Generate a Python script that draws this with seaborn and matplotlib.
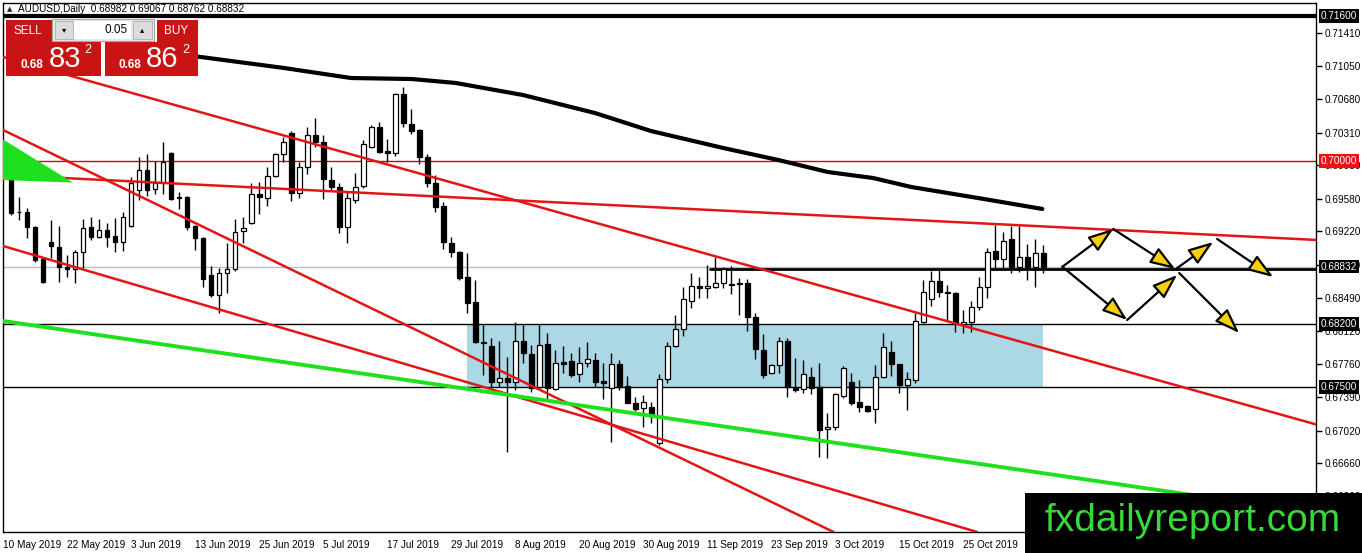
import matplotlib
matplotlib.use('Agg')
import matplotlib.pyplot as plt
import matplotlib.transforms as mtransforms
from matplotlib.patches import Rectangle
import numpy as np
import pandas as pd
import seaborn as sns

sns.set_style('white')
plt.rcParams['font.family'] = ['Liberation Sans', 'DejaVu Sans']

# AUDUSD daily candles, 10 May 2019 .. 8 Nov 2019
opens = [0.6988, 0.6993, 0.6944, 0.6944, 0.6927, 0.6892, 0.6910, 0.6905, 0.6883, 0.6881,
         0.6899, 0.6927, 0.6916, 0.6924, 0.6917, 0.6910, 0.6928, 0.6968, 0.6990, 0.6969,
         0.6976, 0.7009, 0.6960, 0.6960, 0.6928, 0.6915, 0.6874, 0.6852, 0.6876, 0.6881,
         0.6923, 0.6931, 0.6963, 0.6959, 0.6983, 0.7008, 0.7031, 0.6965, 0.6993, 0.7029,
         0.7021, 0.6979, 0.6971, 0.6927, 0.6957, 0.6972, 0.7015, 0.7038, 0.7011, 0.7009,
         0.7074, 0.7041, 0.7034, 0.7004, 0.6976, 0.6950, 0.6909, 0.6899, 0.6872, 0.6844,
         0.6800, 0.6796, 0.6756, 0.6760, 0.6756, 0.6801, 0.6787, 0.6750, 0.6798, 0.6748,
         0.6778, 0.6779, 0.6765, 0.6777, 0.6780, 0.6757, 0.6749, 0.6776, 0.6751, 0.6733,
         0.6727, 0.6728, 0.6688, 0.6759, 0.6796, 0.6814, 0.6845, 0.6862, 0.6860, 0.6861,
         0.6865, 0.6864, 0.6865, 0.6865, 0.6828, 0.6791, 0.6766, 0.6775, 0.6801, 0.6749,
         0.6748, 0.6761, 0.6750, 0.6704, 0.6706, 0.6740, 0.6756, 0.6734, 0.6729, 0.6726,
         0.6761, 0.6789, 0.6776, 0.6752, 0.6758, 0.6822, 0.6847, 0.6867, 0.6855, 0.6854,
         0.6820, 0.6822, 0.6839, 0.6861, 0.6900, 0.6892, 0.6914, 0.6883, 0.6894, 0.6883,
         0.68982]
highs = [0.7020, 0.7003, 0.6960, 0.6948, 0.6928, 0.6894, 0.6935, 0.6928, 0.6896, 0.6902,
         0.6936, 0.6938, 0.6936, 0.6931, 0.6937, 0.6944, 0.6982, 0.7004, 0.7008, 0.7000,
         0.7021, 0.7010, 0.6966, 0.6961, 0.6929, 0.6916, 0.6884, 0.6882, 0.6909, 0.6936,
         0.6938, 0.6976, 0.6977, 0.6993, 0.7009, 0.7026, 0.7033, 0.6999, 0.7038, 0.7047,
         0.7029, 0.6993, 0.6976, 0.6966, 0.6987, 0.7023, 0.7040, 0.7043, 0.7024, 0.7075,
         0.7082, 0.7057, 0.7035, 0.7008, 0.6984, 0.6955, 0.6916, 0.6900, 0.6898, 0.6868,
         0.6819, 0.6804, 0.6801, 0.6783, 0.6822, 0.6819, 0.6797, 0.6819, 0.6810, 0.6791,
         0.6796, 0.6788, 0.6794, 0.6800, 0.6788, 0.6777, 0.6788, 0.6780, 0.6762, 0.6739,
         0.6741, 0.6734, 0.6765, 0.6800, 0.6830, 0.6861, 0.6876, 0.6872, 0.6885, 0.6894,
         0.6883, 0.6884, 0.6871, 0.6870, 0.6832, 0.6809, 0.6776, 0.6805, 0.6804, 0.6782,
         0.6780, 0.6772, 0.6777, 0.6721, 0.6744, 0.6773, 0.6766, 0.6758, 0.6730, 0.6775,
         0.6810, 0.6801, 0.6776, 0.6767, 0.6832, 0.6868, 0.6878, 0.6882, 0.6863, 0.6855,
         0.6835, 0.6845, 0.6872, 0.6904, 0.6929, 0.6921, 0.6928, 0.6928, 0.6908, 0.6914,
         0.69067]
lows = [0.6984, 0.6940, 0.6935, 0.6915, 0.6888, 0.6865, 0.6893, 0.6866, 0.6872, 0.6865,
        0.6882, 0.6913, 0.6915, 0.6905, 0.6899, 0.6900, 0.6927, 0.6957, 0.6961, 0.6963,
        0.6963, 0.6957, 0.6947, 0.6924, 0.6902, 0.6861, 0.6850, 0.6832, 0.6854, 0.6878,
        0.6909, 0.6930, 0.6941, 0.6950, 0.6982, 0.6999, 0.6956, 0.6959, 0.6986, 0.7015,
        0.6958, 0.6968, 0.6920, 0.6909, 0.6954, 0.6970, 0.7014, 0.7009, 0.6999, 0.7005,
        0.7038, 0.7030, 0.6997, 0.6971, 0.6943, 0.6903, 0.6894, 0.6868, 0.6832, 0.6799,
        0.6763, 0.6750, 0.6750, 0.6678, 0.6747, 0.6777, 0.6745, 0.6749, 0.6736, 0.6747,
        0.6766, 0.6761, 0.6756, 0.6772, 0.6750, 0.6737, 0.6689, 0.6747, 0.6732, 0.6724,
        0.6706, 0.6710, 0.6686, 0.6755, 0.6794, 0.6806, 0.6837, 0.6848, 0.6848, 0.6860,
        0.6860, 0.6853, 0.6830, 0.6812, 0.6781, 0.6760, 0.6764, 0.6766, 0.6739, 0.6745,
        0.6743, 0.6742, 0.6673, 0.6672, 0.6703, 0.6738, 0.6730, 0.6723, 0.6723, 0.6710,
        0.6760, 0.6762, 0.6743, 0.6725, 0.6755, 0.6821, 0.6840, 0.6850, 0.6823, 0.6811,
        0.6810, 0.6811, 0.6835, 0.6848, 0.6882, 0.6882, 0.6876, 0.6877, 0.6868, 0.6861,
        0.68762]
closes = [0.6998, 0.6942, 0.6943, 0.6927, 0.6890, 0.6866, 0.6906, 0.6883, 0.6881, 0.6899,
          0.6926, 0.6916, 0.6924, 0.6916, 0.6910, 0.6938, 0.6976, 0.6990, 0.6968, 0.6976,
          0.6999, 0.6958, 0.6959, 0.6927, 0.6915, 0.6870, 0.6852, 0.6876, 0.6881, 0.6921,
          0.6926, 0.6963, 0.6960, 0.6983, 0.7008, 0.7021, 0.6965, 0.6993, 0.7029, 0.7021,
          0.6980, 0.6971, 0.6927, 0.6959, 0.6971, 0.7019, 0.7038, 0.7010, 0.7009, 0.7074,
          0.7042, 0.7033, 0.7004, 0.6976, 0.6949, 0.6910, 0.6899, 0.6871, 0.6843, 0.6800,
          0.6799, 0.6756, 0.6760, 0.6756, 0.6801, 0.6788, 0.6749, 0.6797, 0.6749, 0.6777,
          0.6776, 0.6763, 0.6777, 0.6781, 0.6756, 0.6755, 0.6776, 0.6750, 0.6733, 0.6726,
          0.6734, 0.6719, 0.6759, 0.6796, 0.6814, 0.6847, 0.6862, 0.6860, 0.6862, 0.6865,
          0.6880, 0.6863, 0.6864, 0.6828, 0.6792, 0.6763, 0.6775, 0.6801, 0.6750, 0.6747,
          0.6765, 0.6749, 0.6703, 0.6706, 0.6742, 0.6771, 0.6733, 0.6728, 0.6724, 0.6761,
          0.6794, 0.6776, 0.6752, 0.6759, 0.6823, 0.6855, 0.6867, 0.6855, 0.6854, 0.6821,
          0.6822, 0.6838, 0.6861, 0.6899, 0.6892, 0.6912, 0.6883, 0.6894, 0.6883, 0.6898,
          0.68832]

# moving average (bar index, price); it comes out from under the trade panel
ma_bars = [23.5, 24.75, 35.1, 43.5, 51.1, 56.6, 65, 74, 81, 90, 96.9, 103.1, 108.75, 113.5, 122.6, 129.9]
ma_vals = [0.71160, 0.71148, 0.71027, 0.70916, 0.70905, 0.70861, 0.70728, 0.70529, 0.7033,
           0.70143, 0.7001, 0.69877, 0.69811, 0.69712, 0.69579, 0.69469]

# drawn trend lines: two anchor points each (bar index, price)
red_lines = [[(9.875, 0.70905), (112.1, 0.68375)],
             [(0, 0.70342), (100, 0.66062)],
             [(0, 0.69060), (100, 0.66464)],
             [(0, 0.69844), (100, 0.69407)]]
green_line = [(0, 0.68231), (100, 0.66937)]
green_tri_bars = [-0.4, 8.75, -0.4]
green_tri_prices = [0.7026, 0.6976, 0.6979]

zone_bars = (58, 130)
zone_prices = (0.6750, 0.6820)
support_levels = [0.6820, 0.6750]
resist_black = 0.7160
resist_red = 0.7000
bid = 0.68832
pivot_line = (88.4, 0.6880)

# scenario arrows (start, end)
arrow_segments = [((132.4, 0.6883), (138.75, 0.69248)),
                  ((138.75, 0.69248), (146.5, 0.68806)),
                  ((146.6, 0.68806), (151.25, 0.69104)),
                  ((151.75, 0.69137), (158.75, 0.68717)),
                  ((132.4, 0.6883), (140.5, 0.68242)),
                  ((140.5, 0.68242), (146.75, 0.6874)),
                  ((147.0, 0.68761), (154.5, 0.68098))]

ytick_vals = [0.71410, 0.71050, 0.70680, 0.70310, 0.69950, 0.69580, 0.69220, 0.68850,
              0.68490, 0.68120, 0.67760, 0.67390, 0.67020, 0.66660, 0.66300]
price_tags = [(0.71600, 'black'), (0.70000, '#ee1111'), (0.68832, 'black'),
              (0.68200, 'black'), (0.67500, 'black')]

W, H = 1362, 553
fig = plt.figure(figsize=(W / 100, H / 100), dpi=100)
ax = fig.add_axes([2.5 / W, 21 / H, 1313.5 / W, 529 / H])

o = np.array(opens); h = np.array(highs); l = np.array(lows); c = np.array(closes)
n = len(o)
bars = np.arange(n)
dates = pd.bdate_range('2019-05-10', periods=n)

# background objects
ax.add_patch(Rectangle((zone_bars[0], zone_prices[0]), zone_bars[1] - zone_bars[0],
                       zone_prices[1] - zone_prices[0], fc='#acd8e6', ec='none', zorder=1))
ax.axhline(bid, color='#bdbdbd', lw=1, zorder=1.2)
for lv in support_levels:
    ax.axhline(lv, color='black', lw=1, zorder=1.5)
ax.axhline(resist_black, color='black', lw=3, zorder=1.5)
ax.axhline(resist_red, color='#dd0000', lw=1, zorder=1.5)
ax.plot([pivot_line[0], 170], [pivot_line[1], pivot_line[1]], color='black', lw=2, zorder=1.6)

# candles
up = c >= o
body_lo = np.minimum(o, c)
body_h = np.maximum(np.abs(c - o), 0.00003)
ax.vlines(bars, l, h, color='black', lw=1, zorder=3)
ax.bar(bars, body_h, bottom=body_lo, width=0.62, color=np.where(up, 'white', 'black'),
       edgecolor='black', linewidth=0.9, zorder=4)

# moving average
sns.lineplot(x=ma_bars, y=ma_vals, color='black', lw=3, ax=ax, zorder=5)

# trend lines
for p1, p2 in red_lines:
    ax.axline(p1, p2, color='#e31515', lw=1.8, zorder=5)
ax.axline(green_line[0], green_line[1], color='#1fe01f', lw=2.8, zorder=5)
ax.fill(green_tri_bars, green_tri_prices, color='#1fe01f', lw=0, zorder=5)

for s, e in arrow_segments:
    ax.annotate('', xy=e, xytext=s, annotation_clip=False, zorder=7,
                arrowprops=dict(arrowstyle='-|>,head_length=0.85,head_width=0.3',
                                mutation_scale=18, fc='#f5cf0a', ec='black', lw=1.6,
                                shrinkA=0, shrinkB=0))

ax.set_xlim(-0.06, 164.1)
ax.set_ylim(0.65899, 0.71745)

ax.yaxis.tick_right()
ax.set_yticks(ytick_vals)
ax.set_yticklabels([f'{v:.5f}' for v in ytick_vals])
ax.set_xticks(bars[::8])
ax.set_xticklabels([f'{d.day} {d:%b %Y}' for d in dates[::8]], ha='left')
ax.tick_params(axis='both', direction='out', length=4, width=1, colors='black',
               labelsize=7.2, pad=2)
ax.set_xlabel('')
ax.set_ylabel('')
for sp in ax.spines.values():
    sp.set_visible(True)
    sp.set_color('black')
    sp.set_linewidth(1)

tag_tr = mtransforms.blended_transform_factory(ax.transAxes, ax.transData)
for val, fc in price_tags:
    ax.text(1.0 + 5 / 1313.5, val, f'{val:.5f}', transform=tag_tr, ha='left', va='center',
            color='white', fontsize=7.2, zorder=10, clip_on=False,
            bbox=dict(boxstyle='square,pad=0.18', fc=fc, ec='none'))


def fx(x):
    return x / W


def fy(y):
    return 1 - y / H


def prect(x0, y0, x1, y1, **kw):
    fig.add_artist(Rectangle((fx(x0), fy(y1)), (x1 - x0) / W, (y1 - y0) / H,
                             transform=fig.transFigure, zorder=15, **kw))


# header
fig.text(fx(7), fy(9), '▲', fontsize=5, va='center', family=['DejaVu Sans'])
fig.text(fx(18), fy(9), 'AUDUSD,Daily  0.68982 0.69067 0.68762 0.68832', fontsize=7.2,
         va='center', color='black')

# one-click trading panel
red = '#c81414'
prect(6, 20, 52, 42, fc=red, ec='none')
prect(6, 42, 101, 76, fc=red, ec='none')
prect(157, 20, 198, 42, fc=red, ec='none')
prect(105, 42, 198, 76, fc=red, ec='none')
prect(10, 41.5, 48, 42.3, fc='#f08080', ec='none')
prect(161, 41.5, 195, 42.3, fc='#f08080', ec='none')
prect(52, 19, 154, 41, fc='#e6e6e6', ec='#a8a8a8', lw=0.8)
prect(55, 21, 73, 39, fc='#dcdcdc', ec='#b0b0b0', lw=0.6)
prect(74, 21, 131, 39, fc='white', ec='none')
prect(133, 21, 152, 39, fc='#dcdcdc', ec='#b0b0b0', lw=0.6)
txt = dict(color='white', va='center', zorder=16)
fig.text(fx(28), fy(31), 'SELL', fontsize=8.5, ha='center', **txt)
fig.text(fx(176), fy(31), 'BUY', fontsize=8.5, ha='center', **txt)
fig.text(fx(128), fy(30), '0.05', fontsize=8.5, ha='right', va='center', color='black', zorder=16)
fig.text(fx(64), fy(30), '▾', fontsize=6, ha='center', va='center', color='black', zorder=16,
         family=['DejaVu Sans'])
fig.text(fx(142), fy(30), '▴', fontsize=6, ha='center', va='center', color='black', zorder=16,
         family=['DejaVu Sans'])
fig.text(fx(32), fy(65), '0.68', fontsize=8.5, ha='center', weight='bold', **txt)
fig.text(fx(65), fy(59), '83', fontsize=21, ha='center', **txt)
fig.text(fx(88), fy(50), '2', fontsize=9, ha='center', **txt)
fig.text(fx(130), fy(65), '0.68', fontsize=8.5, ha='center', weight='bold', **txt)
fig.text(fx(162), fy(59), '86', fontsize=21, ha='center', **txt)
fig.text(fx(186), fy(50), '2', fontsize=9, ha='center', **txt)

# watermark
prect(1025, 493, 1362, 553, fc='black', ec='none')
fig.text(fx(1193), fy(521), 'fxdailyreport.com', fontsize=28, color='#38d838',
         ha='center', va='center', zorder=16)

fig.savefig('out.png', dpi=100)
